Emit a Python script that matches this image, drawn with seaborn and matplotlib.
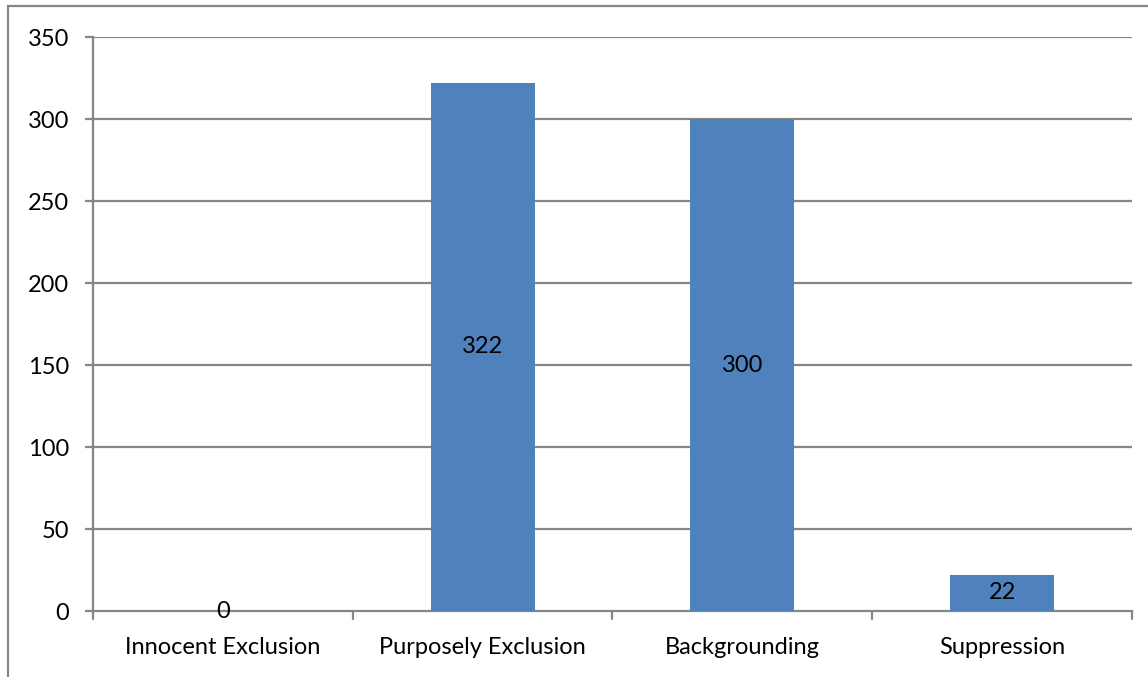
import matplotlib
matplotlib.use("Agg")
import matplotlib.pyplot as plt
import seaborn as sns
import pandas as pd
from matplotlib.patches import Rectangle

categories = ["Innocent Exclusion", "Purposely Exclusion", "Backgrounding", "Suppression"]
counts = [0, 322, 300, 22]
y_ticks = [0, 50, 100, 150, 200, 250, 300, 350]

df = pd.DataFrame({"category": categories, "count": counts})

sns.set_theme(style="white")
plt.rcParams["font.family"] = ["Lato", "DejaVu Sans"]

W, H = 1148, 677
fig = plt.figure(figsize=(W / 100, H / 100), dpi=100)
ax = fig.add_axes([93 / W, 1 - 611 / H, (1132 - 93) / W, (611 - 37) / H])

grid_col = "#868686"
bar_col = "#4f81bd"
fs = 17

sns.barplot(data=df, x="category", y="count", color=bar_col, width=0.4,
            saturation=1, edgecolor="none", ax=ax, zorder=3)

ax.set_ylim(0, 350)
ax.set_xlim(-0.5, len(categories) - 0.5)
ax.set_yticks(y_ticks)
ax.set_yticklabels([str(v) for v in y_ticks], fontsize=fs, color="black")
ax.set_xticks(range(len(categories)))
ax.set_xticklabels(categories, fontsize=fs, color="black")
ax.set_xlabel("")
ax.set_ylabel("")

for v in y_ticks[1:]:
    ax.axhline(v, color=grid_col, lw=1.6, zorder=1)

for s in ["top", "right"]:
    ax.spines[s].set_visible(False)
for s in ["left", "bottom"]:
    ax.spines[s].set_color(grid_col)
    ax.spines[s].set_linewidth(1.6)

ax.tick_params(axis="y", length=6, width=1.6, color=grid_col, direction="out", pad=11, left=True)
ax.tick_params(axis="x", length=0, pad=19, bottom=False)
# category separators below the axis
for xb in [-0.5, 0.5, 1.5, 2.5, 3.5]:
    ax.plot([xb, xb], [0, -0.014], transform=ax.get_xaxis_transform(),
            color=grid_col, lw=1.6, clip_on=False, zorder=4)

for i, v in enumerate(counts):
    ax.text(i, v / 2, str(v), ha="center", va="center", fontsize=fs,
            color="black", zorder=5)

# chart frame
fig.patches.append(Rectangle((8 / W, -0.1), 1.2, 1 - 6 / H + 0.1,
                             transform=fig.transFigure, fill=False,
                             edgecolor=grid_col, lw=1.6))

fig.savefig("out.png", dpi=100)
